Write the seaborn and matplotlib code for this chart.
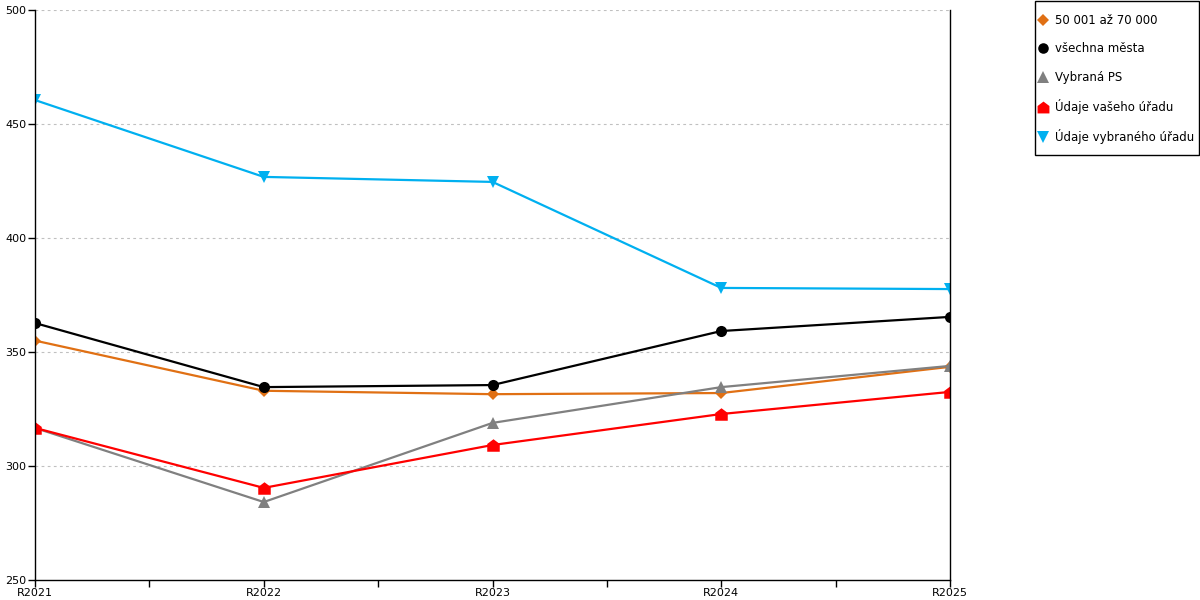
import pandas as pd
import numpy as np
import matplotlib.pyplot as plt
from matplotlib.lines import Line2D
from matplotlib.patches import Rectangle
import seaborn as sns

# data
roky = ['R2021', 'R2022', 'R2023', 'R2024', 'R2025']
mesta_50_70 = [355, 333, 331.5, 332, 343.5]
vsechna_mesta = [362.7, 334.6, 335.5, 359.2, 365.4]
vybrana_ps = [316.7, 284.2, 318.9, 334.6, 343.9]
vas_urad = [316.7, 290.4, 309.2, 322.8, 332.5]
vybrany_urad = [460.5, 426.8, 424.6, 378.1, 377.6]

nazvy = ['50 001 až 70 000', 'všechna města', 'Vybraná PS',
         'Údaje vašeho úřadu', 'Údaje vybraného úřadu']
serie = [mesta_50_70, vsechna_mesta, vybrana_ps, vas_urad, vybrany_urad]
barvy = ['#E07014', '#000000', '#808080', '#FF0000', '#00B0F0']
house = [(-1, -1), (1, -1), (1, 0.25), (0, 1), (-1, 0.25)]
znacky = ['D', 'o', '^', house, 'v']
velikosti = [6, 8, 8.5, 9, 8.5]

df = pd.DataFrame({
    'rok': roky * len(nazvy),
    'hodnota': np.concatenate(serie),
    'rada': np.repeat(nazvy, len(roky)),
})

sns.set_style('white')
plt.rcParams['font.family'] = ['DejaVu Sans']

fig = plt.figure(figsize=(12, 6), dpi=100)
ax = fig.add_axes([35 / 1200, 20 / 600, 915 / 1200, 570 / 600])

for nazev, barva, zn, ms in zip(nazvy, barvy, znacky, velikosti):
    d = df[df['rada'] == nazev]
    sns.lineplot(data=d, x='rok', y='hodnota', color=barva, marker=zn,
                 markersize=ms, markeredgewidth=0, linewidth=1.6,
                 ax=ax, legend=False)

ax.set_xlim(0, len(roky) - 1)
ax.set_ylim(250, 500)
ax.set_yticks([250, 300, 350, 400, 450, 500])
ax.set_xticks(range(len(roky)))
ax.set_xticklabels(roky)
ax.set_xticks(np.arange(0.5, len(roky) - 1, 1), minor=True)
ax.set_xlabel('')
ax.set_ylabel('')

for y in [300, 350, 400, 450, 500]:
    ax.axhline(y, color='#c0c0c0', linestyle=(0, (2.5, 3)), linewidth=0.8, zorder=0)

ax.spines['top'].set_visible(False)
for s in ['left', 'bottom', 'right']:
    ax.spines[s].set_color('black')
    ax.spines[s].set_linewidth(1)
ax.tick_params(axis='both', which='both', direction='out', length=5, width=1,
               color='black', labelcolor='black', labelsize=8, pad=1,
               bottom=True, left=True)

# legend: markers only, box drawn separately
handles = [Line2D([], [], linestyle='none', marker=zn, color=barva,
                  markersize=ms * 0.95, markeredgewidth=0)
           for barva, zn, ms in zip(barvy, znacky, velikosti)]
leg = fig.legend(handles, nazvy, loc='upper left',
                 bbox_to_anchor=(1039 / 1200, 1 - 14 / 600), frameon=False,
                 fontsize=8.5, labelspacing=1.3, handlelength=0.6,
                 handletextpad=0.75, borderpad=0, borderaxespad=0)
for t in leg.get_texts():
    t.set_color('black')
fig.patches.append(Rectangle((1035 / 1200, 1 - 155 / 600), 164 / 1200, 154 / 600,
                             transform=fig.transFigure, fill=False,
                             edgecolor='black', linewidth=1))

fig.savefig('out.png', dpi=100)
